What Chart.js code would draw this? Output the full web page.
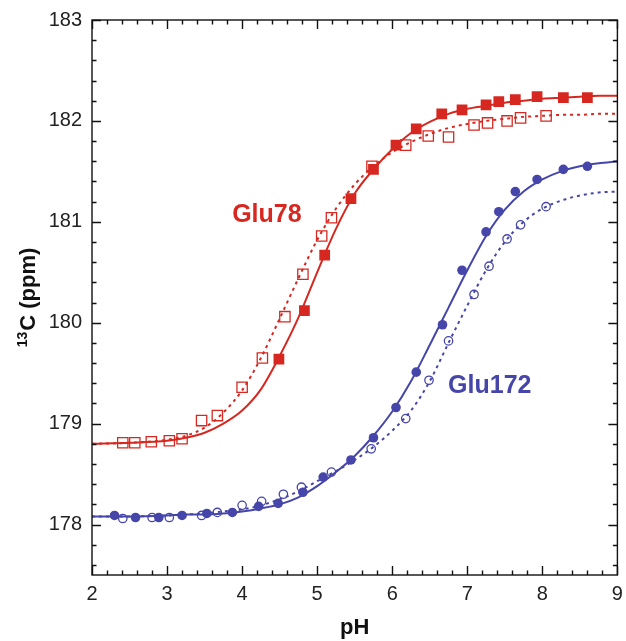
<!DOCTYPE html>
<html>
<head>
<meta charset="utf-8">
<script src="https://cdn.jsdelivr.net/npm/chart.js@4"></script>
<style>
  html, body { margin: 0; padding: 0; background: #fff; overflow: hidden; }
  #wrap { width: 626px; height: 641px; }
  canvas { display: block; }
</style>
</head>
<body>
<div id="wrap"><canvas id="phChart"></canvas></div>
<script>
const RED = 'rgb(214,40,32)';
const BLUE = 'rgb(70,70,170)';

// tick labels
const xTicks = [2, 3, 4, 5, 6, 7, 8, 9];
const yTicks = [178, 179, 180, 181, 182, 183];

// fitted titration curves
const curvePH = [2, 2.5, 3, 3.25, 3.5, 3.75, 4, 4.25, 4.5, 4.75, 5, 5.25, 5.5, 5.75, 6, 6.25, 6.5, 6.75, 7, 7.25, 7.5, 7.75, 8, 8.25, 8.5, 8.75, 9];
const glu78Fit = [178.80, 178.81, 178.83, 178.86, 178.91, 179.00, 179.13, 179.34, 179.67, 180.05, 180.50, 180.93, 181.28, 181.52, 181.72, 181.88, 181.99, 182.07, 182.12, 182.15, 182.18, 182.20, 182.22, 182.23, 182.24, 182.25, 182.25];
const glu78bFit = [178.80, 178.81, 178.84, 178.88, 178.96, 179.11, 179.33, 179.65, 180.04, 180.44, 180.82, 181.13, 181.37, 181.55, 181.69, 181.79, 181.87, 181.93, 181.97, 182.00, 182.02, 182.04, 182.05, 182.06, 182.06, 182.07, 182.07];
const glu172Fit = [178.08, 178.08, 178.09, 178.10, 178.10, 178.11, 178.13, 178.16, 178.20, 178.27, 178.38, 178.52, 178.68, 178.88, 179.12, 179.42, 179.78, 180.15, 180.52, 180.86, 181.12, 181.30, 181.42, 181.50, 181.55, 181.58, 181.60];
const glu172bFit = [178.08, 178.08, 178.09, 178.10, 178.11, 178.13, 178.15, 178.19, 178.25, 178.33, 178.43, 178.53, 178.64, 178.77, 178.93, 179.13, 179.42, 179.80, 180.17, 180.52, 180.80, 181.00, 181.13, 181.21, 181.26, 181.29, 181.30];

// measured points
const glu78PH = [4.49, 4.83, 5.10, 5.45, 5.75, 6.05, 6.32, 6.66, 6.93, 7.25, 7.42, 7.64, 7.93, 8.28, 8.60];
const glu78Shift = [179.64, 180.12, 180.67, 181.23, 181.52, 181.76, 181.92, 182.07, 182.11, 182.16, 182.19, 182.21, 182.24, 182.23, 182.23];
const glu78bPH = [2.41, 2.57, 2.79, 3.03, 3.20, 3.46, 3.67, 4.00, 4.27, 4.57, 4.81, 5.06, 5.19, 5.73, 6.18, 6.48, 6.75, 7.09, 7.27, 7.53, 7.71, 8.05];
const glu78bShift = [178.81, 178.81, 178.82, 178.83, 178.85, 179.03, 179.08, 179.36, 179.65, 180.06, 180.48, 180.86, 181.04, 181.55, 181.76, 181.85, 181.84, 181.96, 181.98, 182.00, 182.03, 182.05];
const glu172PH = [2.30, 2.58, 2.89, 3.20, 3.53, 3.87, 4.22, 4.48, 4.81, 5.08, 5.45, 5.75, 6.05, 6.32, 6.67, 6.93, 7.25, 7.42, 7.64, 7.93, 8.28, 8.60];
const glu172Shift = [178.09, 178.07, 178.07, 178.09, 178.11, 178.12, 178.18, 178.21, 178.32, 178.47, 178.64, 178.86, 179.16, 179.51, 179.98, 180.52, 180.90, 181.10, 181.30, 181.42, 181.52, 181.55];
const glu172bPH = [2.41, 2.80, 3.03, 3.46, 3.67, 4.00, 4.26, 4.55, 4.79, 5.19, 5.72, 6.18, 6.49, 6.75, 7.09, 7.29, 7.53, 7.71, 8.05];
const glu172bShift = [178.06, 178.07, 178.07, 178.09, 178.12, 178.19, 178.23, 178.30, 178.37, 178.52, 178.75, 179.05, 179.43, 179.82, 180.28, 180.56, 180.83, 180.97, 181.15];

// in-plot labels: [text, pH, ppm, colour]
const seriesLabels = [
  ['Glu78', 4.33, 181.07, RED],
  ['Glu172', 7.30, 179.37, BLUE],
];

const pts = (xs, ys) => xs.map((x, i) => ({ x: x, y: ys[i] }));

const FONT = '"Liberation Sans", Arial, Helvetica, sans-serif';

// box with inward ticks on all four sides
const framePlugin = {
  id: 'frame',
  afterDatasetsDraw(chart) {
    const { ctx, chartArea: a, scales: { x, y } } = chart;
    ctx.save();
    ctx.strokeStyle = '#111';
    ctx.lineWidth = 1.4;
    ctx.strokeRect(a.left, a.top, a.right - a.left, a.bottom - a.top);
    ctx.beginPath();
    for (let i = 0; i <= 35; i++) {
      const px = Math.round(x.getPixelForValue(2 + i * 0.2)) + 0.5;
      const len = i % 5 === 0 ? 9 : 4.5;
      ctx.moveTo(px, a.bottom); ctx.lineTo(px, a.bottom - len);
      ctx.moveTo(px, a.top); ctx.lineTo(px, a.top + len);
    }
    for (let k = -2; k <= 25; k++) {
      const py = Math.round(y.getPixelForValue(178 + k * 0.2)) + 0.5;
      const len = k % 5 === 0 ? 9 : 4.5;
      ctx.moveTo(a.left, py); ctx.lineTo(a.left + len, py);
      ctx.moveTo(a.right, py); ctx.lineTo(a.right - len, py);
    }
    ctx.stroke();

    // series names
    ctx.font = 'bold 25px ' + FONT;
    ctx.textAlign = 'center';
    ctx.textBaseline = 'middle';
    seriesLabels.forEach(([t, px, py, c]) => {
      ctx.fillStyle = c;
      ctx.fillText(t, x.getPixelForValue(px), y.getPixelForValue(py));
    });

    // y title with superscript 13
    ctx.translate(27, (a.top + a.bottom) / 2);
    ctx.rotate(-Math.PI / 2);
    ctx.fillStyle = '#111';
    ctx.textAlign = 'left';
    ctx.textBaseline = 'alphabetic';
    const supFont = 'bold 14px ' + FONT;
    const mainFont = 'bold 22px ' + FONT;
    ctx.font = supFont;
    const w1 = ctx.measureText('13').width + 1;
    ctx.font = mainFont;
    const w2 = ctx.measureText('C (ppm)').width;
    const start = -(w1 + w2) / 2;
    ctx.font = supFont;
    ctx.fillText('13', start, 0);
    ctx.font = mainFont;
    ctx.fillText('C (ppm)', start + w1, 8);
    ctx.restore();
  }
};

const lineDs = (data, color, dash) => ({
  data: pts(curvePH, data),
  showLine: true,
  borderColor: color,
  borderWidth: 2,
  borderDash: dash,
  pointRadius: 0,
  cubicInterpolationMode: 'monotone',
  fill: false,
});

new Chart(document.getElementById('phChart'), {
  type: 'scatter',
  data: {
    datasets: [
      {
        data: pts(glu78PH, glu78Shift),
        pointStyle: 'rect', pointRadius: 7.6,
        backgroundColor: RED, borderColor: RED, borderWidth: 0,
      },
      {
        data: pts(glu78bPH, glu78bShift),
        pointStyle: 'rect', pointRadius: 7.3,
        backgroundColor: 'rgba(0,0,0,0)', borderColor: RED, borderWidth: 1.3,
      },
      {
        data: pts(glu172PH, glu172Shift),
        pointStyle: 'circle', pointRadius: 4.8,
        backgroundColor: BLUE, borderColor: BLUE, borderWidth: 0,
      },
      {
        data: pts(glu172bPH, glu172bShift),
        pointStyle: 'circle', pointRadius: 4.2,
        backgroundColor: 'rgba(0,0,0,0)', borderColor: BLUE, borderWidth: 1.3,
      },
      lineDs(glu78Fit, RED, []),
      lineDs(glu78bFit, RED, [3, 4]),
      lineDs(glu172Fit, BLUE, []),
      lineDs(glu172bFit, BLUE, [3, 4]),
    ],
  },
  options: {
    responsive: true,
    maintainAspectRatio: false,
    animation: false,
    layout: { padding: { left: 0, right: 0, top: 20, bottom: 0 } },
    plugins: {
      legend: { display: false },
      tooltip: { enabled: false },
    },
    scales: {
      x: {
        type: 'linear',
        min: 2,
        max: 9,
        afterBuildTicks: (s) => { s.ticks = xTicks.map(v => ({ value: v })); },
        afterFit: (s) => { s.height = 66; s.paddingLeft = 0; s.paddingRight = 0; },
        grid: { display: false, drawTicks: false },
        border: { display: false },
        ticks: {
          padding: 7,
          color: '#222',
          font: { family: FONT, size: 20 },
        },
        title: {
          display: true,
          text: 'pH',
          color: '#111',
          padding: { top: 0, bottom: 0 },
          font: { family: FONT, size: 22, weight: 'bold' },
        },
      },
      y: {
        type: 'linear',
        min: 177.5,
        max: 183,
        afterBuildTicks: (s) => { s.ticks = yTicks.map(v => ({ value: v })); },
        afterFit: (s) => { s.width = 92; s.paddingTop = 0; s.paddingBottom = 0; },
        grid: { display: false, drawTicks: false },
        border: { display: false },
        ticks: {
          padding: 10,
          color: '#222',
          font: { family: FONT, size: 20 },
        },
      },
    },
  },
  plugins: [framePlugin],
});
</script>
</body>
</html>
